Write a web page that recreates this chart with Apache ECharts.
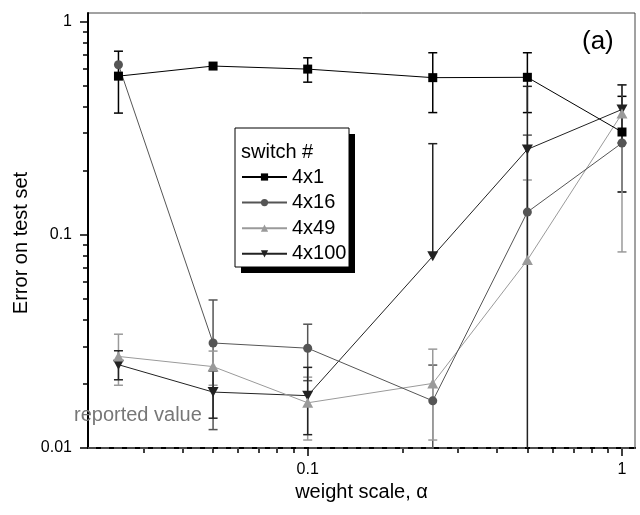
<!DOCTYPE html>
<html>
<head>
<meta charset="utf-8">
<script src="https://cdn.jsdelivr.net/npm/echarts@6/dist/echarts.min.js"></script>
<style>html,body{margin:0;padding:0;background:#fff;}#chart{width:640px;height:515px;}</style>
</head>
<body>
<div id="chart"></div>
<script>
// ---- data ----
const xValues = [0.025, 0.05, 0.1, 0.25, 0.5, 1];
const seriesNames = ['4x1', '4x16', '4x49', '4x100'];
const y4x1   = [0.556, 0.62, 0.60, 0.547, 0.549, 0.304];
const y4x16  = [0.629, 0.0311, 0.0294, 0.01665, 0.128, 0.27];
const y4x49  = [0.0269, 0.0241, 0.0163, 0.0201, 0.0762, 0.371];
const y4x100 = [0.0246, 0.0183, 0.0176, 0.0795, 0.252, 0.388];
// error bar bounds (null = not drawn)
const lo4x1   = [0.373, null, 0.521, 0.375, 0.375, 0.159];
const hi4x1   = [0.728, null, 0.678, 0.716, 0.716, 0.447];
const lo4x16  = [null, 0.0122, 0.0207, 0.0085, null, null];
const hi4x16  = [null, 0.0495, 0.0381, 0.0245, 0.294, null];
const lo4x49  = [0.0197, 0.0197, 0.0109, 0.0109, null, 0.0832];
const hi4x49  = [0.0342, 0.0285, 0.0215, 0.0291, 0.181, 0.506];
const lo4x100 = [0.0209, 0.0138, 0.01155, null, 0.006, 0.27];
const hi4x100 = [0.0286, 0.0230, 0.0239, 0.268, 0.498, 0.506];
const reportedValue = 0.0115;
const yMajorTicks = [0.01, 0.1, 1];
const yMinorTicks = [0.02,0.03,0.04,0.05,0.06,0.07,0.08,0.09,0.2,0.3,0.4,0.5,0.6,0.7,0.8,0.9];
const xMajorTicks = [0.1, 1];
const xMinorTicks = [0.03,0.04,0.05,0.06,0.07,0.08,0.09,0.2,0.3,0.4,0.5,0.6,0.7,0.8,0.9];
const xRange = [0.02, 1.1];
const yRange = [0.01, 1.1];

// ---- styles ----
const FONT = 'Liberation Sans';
const colors = {'4x1': '#000000', '4x16': '#555555', '4x49': '#9a9a9a', '4x100': '#222222'};
const symbols = {'4x1': 'rect', '4x16': 'circle', '4x49': 'triangle', '4x100': 'path://M0,0 L10,0 L5,9 Z'};
const symSizes = {'4x1': 9, '4x16': 9, '4x49': [11, 10], '4x100': [11, 10]};
const yData = {'4x1': y4x1, '4x16': y4x16, '4x49': y4x49, '4x100': y4x100};
const loData = {'4x1': lo4x1, '4x16': lo4x16, '4x49': lo4x49, '4x100': lo4x100};
const hiData = {'4x1': hi4x1, '4x16': hi4x16, '4x49': hi4x49, '4x100': hi4x100};

function errData(name) {
  const out = [];
  xValues.forEach((x, i) => {
    const y = yData[name][i], lo = loData[name][i], hi = hiData[name][i];
    if (lo === null && hi === null) return;
    out.push([x, y, lo === null ? y : lo, hi === null ? y : hi, lo === null ? 0 : 1, hi === null ? 0 : 1]);
  });
  return out;
}

function errRender(color) {
  return function (params, api) {
    const cs = params.coordSys;
    const x = api.value(0);
    const loV = api.value(2), hiV = api.value(3);
    const capLo = api.value(4), capHi = api.value(5);
    const pHi = api.coord([x, hiV]);
    const pLo = api.coord([x, Math.max(loV, yRange[0])]);
    const drawLoCap = capLo && loV >= yRange[0];
    const bottom = cs.y + cs.height;
    const px = pHi[0];
    const half = 4.5;
    const st = {stroke: color, lineWidth: 1.5};
    const children = [{type: 'line', shape: {x1: px, y1: pHi[1], x2: px, y2: Math.min(pLo[1], bottom)}, style: st}];
    if (capHi) children.push({type: 'line', shape: {x1: px - half, y1: pHi[1], x2: px + half, y2: pHi[1]}, style: st});
    if (drawLoCap) children.push({type: 'line', shape: {x1: px - half, y1: pLo[1], x2: px + half, y2: pLo[1]}, style: st});
    return {type: 'group', children: children};
  };
}

const series = [];
seriesNames.forEach(name => {
  series.push({
    type: 'custom', name: name + ' err', renderItem: errRender(colors[name]),
    data: errData(name), z: 2, silent: true, encode: {x: 0, y: [2, 3]}
  });
});
['4x100', '4x49', '4x16', '4x1'].forEach((name, k) => {
  series.push({
    type: 'line', name: name,
    data: xValues.map((x, i) => [x, yData[name][i]]),
    symbol: symbols[name], symbolSize: symSizes[name], showSymbol: true,
    lineStyle: {color: colors[name], width: 1},
    itemStyle: {color: colors[name]},
    z: 3 + k, animation: false
  });
});
series[series.length - 1].markLine = {
  silent: true, symbol: 'none', animation: false,
  lineStyle: {color: '#666', type: [8, 5], width: 1.5},
  label: {show: false},
  data: [{yAxis: reportedValue}]
};

const axisCommon = {splitLine: {show: false}, minorTick: {show: false}};
const option = {
  animation: false,
  textStyle: {fontFamily: FONT},
  grid: {left: 88, right: 5, top: 13, bottom: 67, show: true, borderColor: '#444', borderWidth: 1, containLabel: false},
  xAxis: [
    Object.assign({
      type: 'log', min: xRange[0], max: xRange[1], position: 'bottom',
      name: 'weight scale, α', nameLocation: 'middle', nameGap: 33,
      nameTextStyle: {fontSize: 20, color: '#000', fontFamily: FONT},
      axisLine: {lineStyle: {color: '#000', width: 2}},
      axisTick: {customValues: xMajorTicks, length: 8, lineStyle: {color: '#000', width: 1.5}},
      axisLabel: {customValues: xMajorTicks, fontSize: 16, color: '#000', margin: 14, formatter: v => String(v)}
    }, axisCommon),
    Object.assign({
      type: 'log', min: xRange[0], max: xRange[1], position: 'bottom',
      axisLine: {show: false},
      axisTick: {customValues: xMinorTicks, length: 5, lineStyle: {color: '#000', width: 1.5}},
      axisLabel: {show: false}
    }, axisCommon)
  ],
  yAxis: [
    Object.assign({
      type: 'log', min: yRange[0], max: yRange[1], position: 'left',
      axisLine: {lineStyle: {color: '#000', width: 2}},
      axisTick: {customValues: yMajorTicks, length: 8, lineStyle: {color: '#000', width: 1.5}},
      axisLabel: {customValues: yMajorTicks, fontSize: 16, color: '#000', margin: 16, formatter: v => String(v)}
    }, axisCommon),
    Object.assign({
      type: 'log', min: yRange[0], max: yRange[1], position: 'left',
      axisLine: {show: false},
      axisTick: {customValues: yMinorTicks, length: 5, lineStyle: {color: '#000', width: 1.5}},
      axisLabel: {show: false}
    }, axisCommon)
  ],
  legend: {
    orient: 'vertical', left: 236, top: 162, z: 20, padding: 5,
    itemWidth: 45, itemHeight: 9, itemGap: 5.6,
    data: seriesNames,
    textStyle: {fontSize: 20, color: '#000', fontFamily: FONT},
    selectedMode: false
  },
  graphic: [
    {type: 'rect', z: 15, shape: {x: 241, y: 134, width: 114, height: 139}, style: {fill: '#000'}},
    {type: 'rect', z: 16, shape: {x: 235, y: 128, width: 114, height: 139}, style: {fill: '#fff', stroke: '#000', lineWidth: 1}},
    {type: 'text', z: 17, left: 241, top: 142, style: {text: 'switch #', font: '20px "Liberation Sans"', fill: '#000'}},
    {type: 'text', z: 17, left: 582, top: 29, style: {text: '(a)', font: '26px "Liberation Sans"', fill: '#000'}},
    {type: 'text', z: 17, left: 74, top: 405, style: {text: 'reported value', font: '20px "Liberation Sans"', fill: '#777'}},
    {type: 'text', z: 17, x: 21, y: 243, rotation: Math.PI / 2,
     style: {text: 'Error on test set', font: '20px "Liberation Sans"', fill: '#000', align: 'center', verticalAlign: 'middle'}}
  ],
  series: series
};

const chart = echarts.init(document.getElementById('chart'), null, {renderer: 'canvas'});
chart.setOption(option);
</script>
</body>
</html>
